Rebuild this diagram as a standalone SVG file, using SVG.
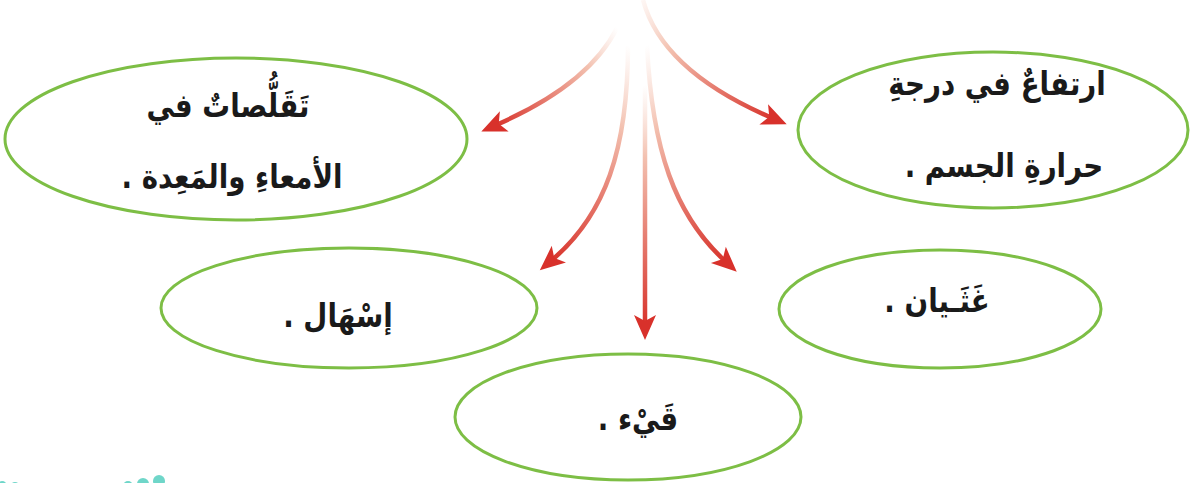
<svg xmlns="http://www.w3.org/2000/svg" width="1191" height="483" viewBox="0 0 1191 483">
<style>
.node ellipse{fill:#ffffff;stroke:#7DBE45;stroke-width:3}
.lbl{font-family:"DejaVu Sans",sans-serif;font-weight:bold;font-size:33px;fill:#1a1a1a;text-anchor:middle;direction:rtl}
.arrow{fill:none;stroke-width:4.5;stroke-linecap:butt}
.dot{fill:#6FD6C9}
</style>
<defs>
<marker id="head" markerUnits="userSpaceOnUse" viewBox="-12 -13 30 26" markerWidth="30" markerHeight="26" refX="0" refY="0" orient="auto">
<path d="M16,0 L-9,-11 L-3,0 L-9,11 Z" fill="#D8312B"/>
</marker>
<linearGradient id="g1" gradientUnits="userSpaceOnUse" x1="617" y1="28" x2="496" y2="125">
<stop offset="0" stop-color="#F8D3C6" stop-opacity="0"/><stop offset="0.3" stop-color="#F3C1B0"/><stop offset="1" stop-color="#D8352D"/>
</linearGradient>
<linearGradient id="g2" gradientUnits="userSpaceOnUse" x1="643" y1="0" x2="772" y2="118">
<stop offset="0" stop-color="#F8D3C6" stop-opacity="0.2"/><stop offset="0.3" stop-color="#F3C1B0"/><stop offset="1" stop-color="#D8352D"/>
</linearGradient>
<linearGradient id="g3" gradientUnits="userSpaceOnUse" x1="628" y1="45" x2="552" y2="260">
<stop offset="0" stop-color="#F8D3C6" stop-opacity="0"/><stop offset="0.35" stop-color="#F3C1B0"/><stop offset="1" stop-color="#D8352D"/>
</linearGradient>
<linearGradient id="g4" gradientUnits="userSpaceOnUse" x1="645" y1="85" x2="645" y2="324">
<stop offset="0" stop-color="#F8D3C6" stop-opacity="0"/><stop offset="0.3" stop-color="#F3C1B0"/><stop offset="1" stop-color="#D8352D"/>
</linearGradient>
<linearGradient id="g5" gradientUnits="userSpaceOnUse" x1="647" y1="45" x2="725" y2="261">
<stop offset="0" stop-color="#F8D3C6" stop-opacity="0"/><stop offset="0.35" stop-color="#F3C1B0"/><stop offset="1" stop-color="#D8352D"/>
</linearGradient>
</defs>
<g id="connectors">
<path class="arrow" stroke="url(#g1)" d="M617,28 C600,62 565,95 496,125" marker-end="url(#head)"/>
<path class="arrow" stroke="url(#g2)" d="M643,0 C655,45 695,85 772,118" marker-end="url(#head)"/>
<path class="arrow" stroke="url(#g3)" d="M628,45 C628,150 605,215 552,260" marker-end="url(#head)"/>
<path class="arrow" stroke="url(#g4)" d="M645,85 L645,324" marker-end="url(#head)"/>
<path class="arrow" stroke="url(#g5)" d="M647,45 C652,150 675,215 725,261" marker-end="url(#head)"/>
</g>
<g id="node-cramps" class="node">
<ellipse cx="236" cy="139" rx="231" ry="81"/>
<text class="lbl" transform="translate(228,117) scale(0.84,1)">تَقَلُّصاتٌ في</text>
<text class="lbl" transform="translate(232,188) scale(0.84,1)">الأمعاءِ والمَعِدة .</text>
</g>
<g id="node-fever" class="node">
<ellipse cx="993" cy="130" rx="195" ry="78"/>
<text class="lbl" transform="translate(997,95) scale(0.84,1)">ارتفاعٌ في درجةِ</text>
<text class="lbl" transform="translate(1004,177) scale(0.84,1)">حرارةِ الجسم .</text>
</g>
<g id="node-diarrhea" class="node">
<ellipse cx="349" cy="308" rx="188" ry="60"/>
<text class="lbl" transform="translate(338,327) scale(0.84,1)">إسْهَال .</text>
</g>
<g id="node-nausea" class="node">
<ellipse cx="940" cy="309" rx="161" ry="59"/>
<text class="lbl" transform="translate(937,312) scale(0.84,1)">غَثَـيان .</text>
</g>
<g id="node-vomit" class="node">
<ellipse cx="628" cy="417" rx="173" ry="63"/>
<text class="lbl" transform="translate(638,430) scale(0.84,1)">قَيْء .</text>
</g>
<g id="decor">
<circle class="dot" cx="159" cy="481" r="6"/>
<circle class="dot" cx="143" cy="484" r="6"/>
<circle class="dot" cx="128" cy="486" r="5"/>
<circle class="dot" cx="15" cy="487" r="5"/>
<circle class="dot" cx="2" cy="486" r="5"/>
</g>
</svg>
